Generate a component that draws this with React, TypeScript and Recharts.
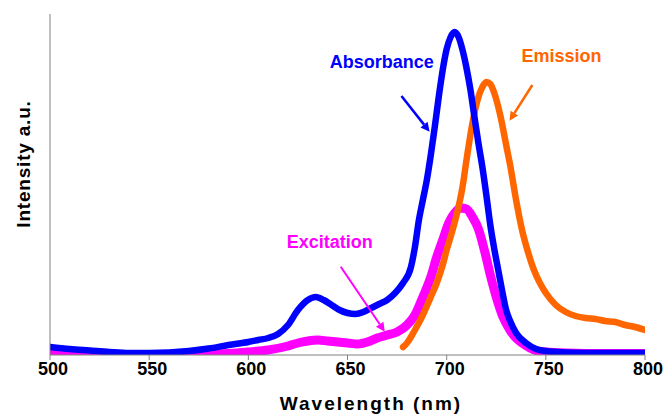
import React from 'react';
import { LineChart, Line, XAxis, YAxis, ReferenceLine, ReferenceDot } from 'recharts';

// Absorbance (blue)
const absNm = [500, 510, 520, 530, 540, 550, 560, 570, 580, 590, 600, 605, 610, 615, 620, 625, 630, 634, 638, 642, 646, 650, 654, 658, 662, 666, 670, 674, 678, 682, 684, 686, 688, 690, 692, 694, 696, 698, 700, 702, 704, 706, 708, 710, 712, 714, 716, 718, 720, 722, 724, 726, 728, 730, 732, 735, 740, 745, 750, 760, 770, 780, 790, 800];
const absVal = [8, 6, 4.5, 3, 2, 2, 2.5, 4, 6.5, 10, 13, 15, 17, 21, 30, 45, 55, 58, 55, 50, 45, 42, 41, 43, 47, 51, 55, 62, 72, 88, 108, 135, 155, 175, 200, 228, 258, 285, 306, 318, 323, 318, 305, 287, 265, 238, 212, 188, 160, 130, 106, 85, 64, 45, 34, 22, 12, 6, 4, 2.5, 2, 2, 2, 2];

// Excitation (magenta)
const excNm = [500, 510, 520, 530, 540, 550, 560, 570, 580, 590, 600, 610, 620, 625, 630, 635, 640, 645, 650, 655, 660, 665, 670, 675, 680, 684, 688, 692, 695, 698, 701, 704, 707, 710, 713, 716, 719, 722, 725, 728, 731, 734, 738, 742, 746, 750, 760, 780, 800];
const excVal = [2, 1.5, 1, 0.5, 0.5, 0.5, 0.5, 0.5, 1, 1.5, 3, 5, 9, 12, 14, 15, 14, 13, 12, 11, 13, 17, 20, 23, 30, 40, 58, 78, 98, 115, 132, 142, 147, 146, 138, 126, 105, 80, 58, 40, 28, 19, 12, 7, 4, 3, 2, 1.5, 1.5];

// Emission (orange)
const emiNm = [678, 680, 684, 688, 692, 695, 698, 700, 703, 705, 708, 710, 713, 716, 718, 720, 722, 724, 727, 730, 732, 735, 738, 741, 744, 747, 750, 755, 760, 765, 770, 775, 780, 785, 790, 795, 800];
const emiVal = [8, 12, 25, 40, 58, 72, 90, 105, 125, 140, 168, 195, 232, 258, 268, 273, 271, 262, 240, 210, 190, 155, 125, 103, 85, 72, 62, 50, 43, 39, 37, 36, 34, 33, 30, 28, 25];

const xTicks = [500, 550, 600, 650, 700, 750, 800];

const absData = absNm.map((nm, i) => ({ nm, v: absVal[i] }));
const excData = excNm.map((nm, i) => ({ nm, v: excVal[i] }));
const emiData = emiNm.map((nm, i) => ({ nm, v: emiVal[i] }));

const FONT = '"Liberation Sans", Arial, Helvetica, sans-serif';
const BLUE = '#0000ff';
const MAGENTA = '#ff00ff';
const ORANGE = '#ff6600';

const makeArrow = (color: string, w: number) => (p: any) => {
  const { x1, y1, x2, y2 } = p;
  const dx = x2 - x1;
  const dy = y2 - y1;
  const len = Math.sqrt(dx * dx + dy * dy) || 1;
  const ux = dx / len;
  const uy = dy / len;
  const hl = 9;
  const hw = 4.5;
  const bx = x2 - ux * hl;
  const by = y2 - uy * hl;
  const pts = `${x2},${y2} ${bx - uy * hw},${by + ux * hw} ${bx + uy * hw},${by - ux * hw}`;
  return (
    <g>
      <line x1={x1} y1={y1} x2={bx} y2={by} stroke={color} strokeWidth={w} />
      <polygon points={pts} fill={color} />
    </g>
  );
};

const makeText = (txt: string, color: string) => (p: any) => (
  <text
    x={p.cx}
    y={p.cy}
    textAnchor="middle"
    dominantBaseline="central"
    fill={color}
    fontFamily={FONT}
    fontWeight="bold"
    fontSize={18}
  >
    {txt}
  </text>
);

const YLabel = () => (
  <text
    x={23}
    y={164}
    transform="rotate(-90 23 164)"
    textAnchor="middle"
    dominantBaseline="central"
    fill="#000"
    fontFamily={FONT}
    fontWeight="bold"
    fontSize={19}
    letterSpacing={0.8}
  >
    Intensity a.u.
  </text>
);

const XLabel = () => (
  <text
    x={371}
    y={410}
    textAnchor="middle"
    fill="#000"
    fontFamily={FONT}
    fontWeight="bold"
    fontSize={19}
    letterSpacing={2}
  >
    Wavelength (nm)
  </text>
);

export default function App() {
  return (
    <div style={{ position: 'absolute', left: 0, top: 0, background: '#fff' }}>
      <LineChart width={665} height={416} margin={{ top: 14, right: 20, bottom: 0, left: 0 }}>
        <XAxis
          type="number"
          dataKey="nm"
          domain={[500, 800]}
          ticks={xTicks}
          interval={0}
          allowDataOverflow
          height={61}
          tickSize={5}
          tickMargin={2}
          axisLine={{ stroke: '#808080', strokeWidth: 1 }}
          tickLine={{ stroke: '#808080', strokeWidth: 1 }}
          tick={{ fill: '#000', fontSize: 18, fontWeight: 'bold', fontFamily: FONT, dx: 3 }}
          label={<XLabel />}
        />
        <YAxis
          type="number"
          domain={[0, 341]}
          allowDataOverflow
          width={50}
          tick={false}
          tickLine={false}
          axisLine={{ stroke: '#808080', strokeWidth: 1 }}
          label={<YLabel />}
        />
        <Line data={excData} dataKey="v" type="monotone" stroke={MAGENTA} strokeWidth={9} dot={false} isAnimationActive={false} strokeLinecap="round" />
        <Line data={emiData} dataKey="v" type="monotone" stroke={ORANGE} strokeWidth={6.5} dot={false} isAnimationActive={false} strokeLinecap="round" />
        <Line data={absData} dataKey="v" type="monotone" stroke={BLUE} strokeWidth={6.5} dot={false} isAnimationActive={false} strokeLinecap="round" />
        <ReferenceLine segment={[{ x: 677.2, y: 259 }, { x: 691.4, y: 223.3 }]} shape={makeArrow(BLUE, 2.5)} />
        <ReferenceLine segment={[{ x: 743.2, y: 270 }, { x: 731.7, y: 234.3 }]} shape={makeArrow(ORANGE, 2.5)} />
        <ReferenceLine segment={[{ x: 646.6, y: 88.3 }, { x: 668.8, y: 23.3 }]} shape={makeArrow(MAGENTA, 2)} />
        <ReferenceDot x={667.3} y={293} shape={makeText('Absorbance', BLUE)} />
        <ReferenceDot x={757.9} y={299.5} shape={makeText('Emission', ORANGE)} />
        <ReferenceDot x={641} y={113} shape={makeText('Excitation', MAGENTA)} />
      </LineChart>
    </div>
  );
}
